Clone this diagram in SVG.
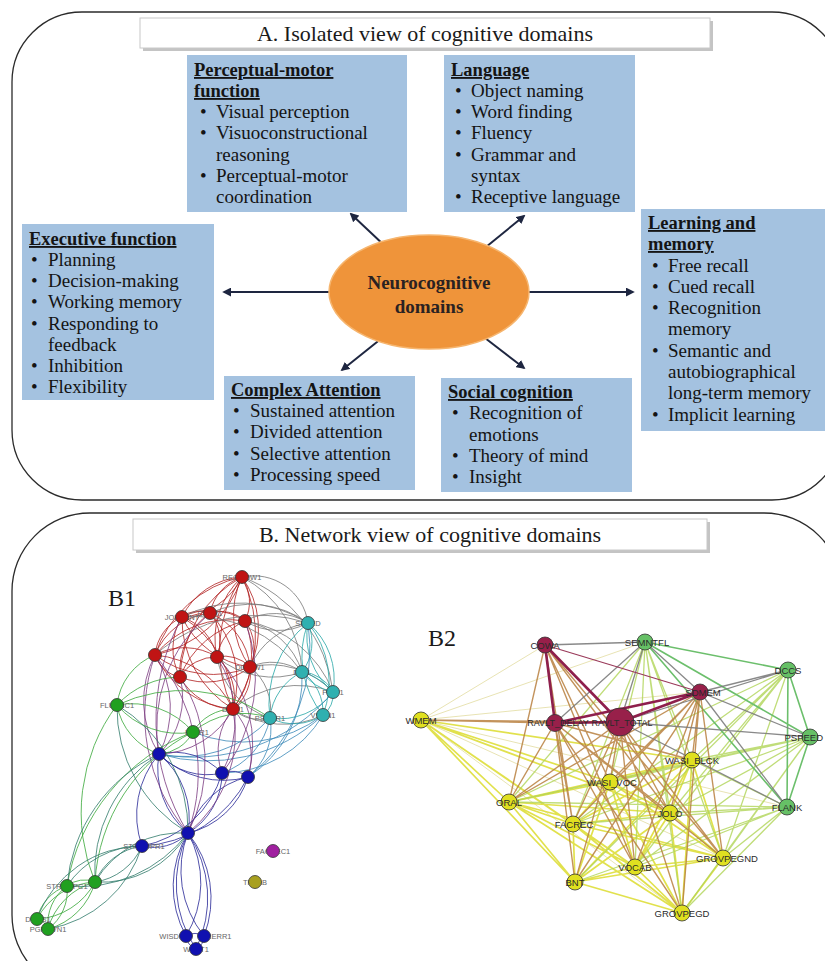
<svg xmlns="http://www.w3.org/2000/svg" width="825" height="961" viewBox="0 0 825 961">
<defs>
<marker id="ah" viewBox="0 0 10 10" refX="8" refY="5" markerWidth="4.5" markerHeight="4.5" orient="auto" markerUnits="strokeWidth"><path d="M0,0 L10,5 L0,10 z" fill="#1e2640"/></marker>
</defs>
<style>
.panel{fill:none;stroke:#2b2b2b;stroke-width:1.3}
.tbox{fill:#fff;stroke:#c8c8c8;stroke-width:1}
.tsh{fill:#8a8a8a;opacity:.5}
.ttl{font-family:"Liberation Serif",serif;font-size:22px;fill:#1a1a1a;text-anchor:middle}
.box{fill:#a4c2e0}
.hd{font-family:"Liberation Serif",serif;font-size:18.5px;font-weight:bold;fill:#141414;text-decoration:underline}
.it{font-family:"Liberation Serif",serif;font-size:19px;fill:#141414}
.arr{stroke:#1e2640;stroke-width:2;fill:none;marker-end:url(#ah)}
.el{fill:#ef943a;stroke:#f6b56e;stroke-width:1.5}
.et{font-family:"Liberation Serif",serif;font-size:19px;font-weight:bold;fill:#2a2222;text-anchor:middle}
.bl{font-family:"Liberation Serif",serif;font-size:24px;fill:#1a1a1a}
.e1{fill:none;stroke-width:1;opacity:.8}
.rr{stroke:#b01e1e}.gr{stroke:#777}.tt{stroke:#26a6a6}.bb{stroke:#262696}.pu{stroke:#7a3a80}.gg{stroke:#38a838}.gb{stroke:#2f7a6a}.tb{stroke:#3a88b8}
.nr{fill:#c01414}.nt{fill:#30b0b0}.ng{fill:#20a020}.nb{fill:#1010b0}.nm{fill:#a020a0}.no{fill:#a8a020}
.n1{stroke:#333;stroke-width:.8}
.lb{font-family:"Liberation Sans",sans-serif;font-size:7.5px;fill:#666;text-anchor:middle}
.lbe{text-anchor:end}.lbs{text-anchor:start}
.e2{fill:none}
.ym{stroke:#8e1f4c;stroke-width:2.6}
.mm{stroke:#9a3a5a;stroke-width:1.2}
.bw{stroke:#b98040;stroke-width:1.4;opacity:.85}
.gy{stroke:#7c7c7c;stroke-width:1.3;opacity:.9}
.gn{stroke:#6cbf6c;stroke-width:1.6}
.yg{stroke:#b0d458;stroke-width:1.3;opacity:.8}
.yy{stroke:#dede3a;stroke-width:1.7;opacity:.9}
.fy{stroke:#e2dca0;stroke-width:1;opacity:.8}
.m2{fill:#98204a}.g2{fill:#66c066}.y2{fill:#e0e020}
.n2{stroke:#333;stroke-width:.8}
.nl{font-family:"Liberation Sans",sans-serif;font-size:9.5px;fill:#2a2a2a;text-anchor:middle}
.nle{text-anchor:end}
.sm{font-size:9px}
</style>
<rect width="825" height="961" fill="#fff"/>

<!-- Panel A -->
<g id="panelA">
<rect class="panel" x="12" y="12" width="830" height="488" rx="70" ry="70"/>
<rect class="tsh" x="143" y="21" width="570" height="30"/>
<rect class="tbox" x="140" y="18" width="570" height="30"/>
<text class="ttl" x="425" y="41">A. Isolated view of cognitive domains</text>
</g>

<g id="connectorsA">
<path class="arr" d="M386,247 L351,214"/>
<path class="arr" d="M486,247 L524,216"/>
<path class="arr" d="M330,292 L224,292"/>
<path class="arr" d="M529,292 L633,292"/>
<path class="arr" d="M382,338 L342,370"/>
<path class="arr" d="M485,338 L524,368"/>
</g>

<g id="perceptual">
<rect class="box" x="187" y="55" width="220" height="157"/>
<text class="hd" x="194" y="76">Perceptual-motor</text>
<text class="hd" x="194" y="97">function</text>
<text class="it" x="200" y="118">•</text><text class="it" x="216" y="118">Visual perception</text>
<text class="it" x="200" y="139">•</text><text class="it" x="216" y="139">Visuoconstructional</text>
<text class="it" x="216" y="161">reasoning</text>
<text class="it" x="200" y="182">•</text><text class="it" x="216" y="182">Perceptual-motor</text>
<text class="it" x="216" y="203">coordination</text>
</g>

<g id="language">
<rect class="box" x="444" y="55" width="191" height="157"/>
<text class="hd" x="451" y="76">Language</text>
<text class="it" x="455" y="97">•</text><text class="it" x="471" y="97">Object naming</text>
<text class="it" x="455" y="118">•</text><text class="it" x="471" y="118">Word finding</text>
<text class="it" x="455" y="139">•</text><text class="it" x="471" y="139">Fluency</text>
<text class="it" x="455" y="161">•</text><text class="it" x="471" y="161">Grammar and</text>
<text class="it" x="471" y="182">syntax</text>
<text class="it" x="455" y="203">•</text><text class="it" x="471" y="203">Receptive language</text>
</g>

<g id="learning">
<rect class="box" x="641" y="209" width="190" height="222"/>
<text class="hd" x="648" y="229">Learning and</text>
<text class="hd" x="648" y="250">memory</text>
<text class="it" x="652" y="272">•</text><text class="it" x="668" y="272">Free recall</text>
<text class="it" x="652" y="293">•</text><text class="it" x="668" y="293">Cued recall</text>
<text class="it" x="652" y="314">•</text><text class="it" x="668" y="314">Recognition</text>
<text class="it" x="668" y="335">memory</text>
<text class="it" x="652" y="357">•</text><text class="it" x="668" y="357">Semantic and</text>
<text class="it" x="668" y="378">autobiographical</text>
<text class="it" x="668" y="399">long-term memory</text>
<text class="it" x="652" y="421">•</text><text class="it" x="668" y="421">Implicit learning</text>
</g>

<g id="executive">
<rect class="box" x="22" y="224" width="192" height="176"/>
<text class="hd" x="29" y="245">Executive function</text>
<text class="it" x="31" y="266">•</text><text class="it" x="48" y="266">Planning</text>
<text class="it" x="31" y="287">•</text><text class="it" x="48" y="287">Decision-making</text>
<text class="it" x="31" y="308">•</text><text class="it" x="48" y="308">Working memory</text>
<text class="it" x="31" y="330">•</text><text class="it" x="48" y="330">Responding to</text>
<text class="it" x="48" y="351">feedback</text>
<text class="it" x="31" y="372">•</text><text class="it" x="48" y="372">Inhibition</text>
<text class="it" x="31" y="393">•</text><text class="it" x="48" y="393">Flexibility</text>
</g>

<g id="attention">
<rect class="box" x="224" y="376" width="191" height="114"/>
<text class="hd" x="231" y="396">Complex Attention</text>
<text class="it" x="233" y="417">•</text><text class="it" x="250" y="417">Sustained attention</text>
<text class="it" x="233" y="438">•</text><text class="it" x="250" y="438">Divided attention</text>
<text class="it" x="233" y="460">•</text><text class="it" x="250" y="460">Selective attention</text>
<text class="it" x="233" y="481">•</text><text class="it" x="250" y="481">Processing speed</text>
</g>

<g id="social">
<rect class="box" x="441" y="378" width="191" height="114"/>
<text class="hd" x="448" y="398">Social cognition</text>
<text class="it" x="452" y="419">•</text><text class="it" x="469" y="419">Recognition of</text>
<text class="it" x="469" y="441">emotions</text>
<text class="it" x="452" y="462">•</text><text class="it" x="469" y="462">Theory of mind</text>
<text class="it" x="452" y="483">•</text><text class="it" x="469" y="483">Insight</text>
</g>

<g id="neuro">
<ellipse class="el" cx="429" cy="292" rx="100" ry="57"/>
<text class="et" x="429" y="289">Neurocognitive</text>
<text class="et" x="429" y="313">domains</text>
</g>

<!-- Panel B -->
<g id="panelB">
<rect class="panel" x="12" y="513" width="830" height="480" rx="78" ry="78"/>
<rect class="tsh" x="136" y="522" width="574" height="31"/>
<rect class="tbox" x="133" y="519" width="574" height="31"/>
<text class="ttl" x="430" y="542">B. Network view of cognitive domains</text>
<text class="bl" x="108" y="606">B1</text>
<text class="bl" x="428" y="646">B2</text>
</g>

<!-- B1 network connectors -->
<g id="b1-connectors">
<path class="e1 rr" d="M242,577A72,72 0 0,0 182,617M242,577A72,72 0 0,1 182,617M242,577A48,48 0 0,0 210,613M242,577A44,44 0 0,1 245,621M242,577A117,117 0 0,0 155,655M242,577A117,117 0 0,1 155,655M242,577A84,84 0 0,0 217,657M242,577A90,90 0 0,0 250,667M242,577A90,90 0 0,1 250,667M242,577A118,118 0 0,0 180,677M242,577A132,132 0 0,0 233,709M242,577A132,132 0 0,1 233,709M182,617A28,28 0 0,1 210,613M182,617A63,63 0 0,1 245,621M182,617A47,47 0 0,0 155,655M182,617A54,54 0 0,1 217,657M182,617A88,88 0 0,0 250,667M182,617A60,60 0 0,0 180,677M182,617A105,105 0 0,0 233,709M182,617A105,105 0 0,1 233,709M210,613A36,36 0 0,1 245,621M210,613A68,68 0 0,0 155,655M210,613A44,44 0 0,1 217,657M210,613A66,66 0 0,1 250,667M210,613A71,71 0 0,0 180,677M210,613A99,99 0 0,1 233,709M245,621A96,96 0 0,0 155,655M245,621A46,46 0 0,0 217,657M245,621A46,46 0 0,1 250,667M245,621A92,92 0 0,0 180,677M245,621A89,89 0 0,1 233,709M155,655A62,62 0 0,1 217,657M155,655A96,96 0 0,0 250,667M155,655A33,33 0 0,0 180,677M155,655A96,96 0 0,0 233,709M155,655A96,96 0 0,1 233,709M217,657A35,35 0 0,1 250,667M217,657A42,42 0 0,0 180,677M217,657A54,54 0 0,1 233,709M250,667A71,71 0 0,1 180,677M250,667A45,45 0 0,1 233,709M180,677A62,62 0 0,0 233,709"/>
<path class="e1 gr" d="M242,577A55,55 0 0,1 308,623M182,617A126,126 0 0,1 308,623M210,613A98,98 0 0,1 308,623M245,621A63,63 0 0,1 308,623M245,621A63,63 0 0,0 308,623M242,577A112,112 0 0,1 302,672M245,621A75,75 0 0,1 302,672M250,667A52,52 0 0,1 302,672M217,657A87,87 0 0,0 302,672M250,667A75,75 0 0,1 308,623M233,709A38,38 0 0,0 270,718M250,667A54,54 0 0,1 270,718M217,657A78,78 0 0,0 270,718M245,621A114,114 0 0,1 333,692M242,577A140,140 0 0,1 333,692M250,667A87,87 0 0,1 333,692M233,709A90,90 0 0,0 323,715M233,709A100,100 0 0,1 333,692M155,655A157,157 0 0,1 308,623M182,617A132,132 0 0,1 302,672"/>
<path class="e1 tt" d="M308,623A49,49 0 0,1 302,672M308,623A73,73 0 0,1 333,692M308,623A73,73 0 0,0 333,692M308,623A93,93 0 0,1 323,715M308,623A93,93 0 0,0 323,715M308,623A102,102 0 0,0 270,718M302,672A37,37 0 0,1 333,692M302,672A49,49 0 0,1 323,715M302,672A57,57 0 0,0 270,718M333,692A25,25 0 0,1 323,715M333,692A66,66 0 0,1 270,718M323,715A53,53 0 0,1 270,718M302,672A53,53 0 0,0 333,692M302,672A66,66 0 0,1 333,692"/>
<path class="e1 tb" d="M333,692A183,183 0 0,1 159,754M323,715A169,169 0 0,1 159,754M270,718A116,116 0 0,1 159,754M270,718A73,73 0 0,1 222,773M270,718A62,62 0 0,1 248,777M302,672A117,117 0 0,1 248,777M323,715A118,118 0 0,1 222,773M308,623A165,165 0 0,1 248,777M323,715A131,131 0 0,1 193,732"/>
<path class="e1 bb" d="M159,754A66,66 0 0,0 222,773M159,754A66,66 0 0,1 222,773M159,754A92,92 0 0,0 248,777M222,773A26,26 0 0,1 248,777M159,754A84,84 0 0,1 188,833M159,754A84,84 0 0,0 188,833M222,773A70,70 0 0,1 188,833M248,777A82,82 0 0,1 188,833M248,777A82,82 0 0,0 188,833M188,833A48,48 0 0,1 142,846M159,754A94,94 0 0,0 142,846M142,846A125,125 0 0,0 248,777M142,846A103,103 0 0,0 222,773M188,833A103,103 0 0,0 186,936M188,833A103,103 0 0,1 186,936M188,833A104,104 0 0,0 204,936M188,833A104,104 0 0,1 204,936M188,833A117,117 0 0,0 196,949M188,833A117,117 0 0,1 196,949M186,936A18,18 0 0,1 204,936M204,936A15,15 0 0,1 196,949M186,936A16,16 0 0,0 196,949"/>
<path class="e1 pu" d="M155,655A99,99 0 0,0 159,754M155,655A99,99 0 0,1 159,754M180,677A80,80 0 0,1 159,754M233,709A66,66 0 0,0 222,773M233,709A70,70 0 0,1 248,777M217,657A116,116 0 0,1 222,773M155,655A182,182 0 0,0 188,833M155,655A182,182 0 0,1 188,833M182,617A216,216 0 0,0 188,833M180,677A156,156 0 0,1 188,833M233,709A86,86 0 0,1 159,754M217,657A123,123 0 0,1 248,777M233,709A128,128 0 0,1 188,833M210,613A150,150 0 0,0 159,754M245,621A155,155 0 0,1 222,773"/>
<path class="e1 gg" d="M117,705A81,81 0 0,0 193,732M117,705A81,81 0 0,1 193,732M117,705A64,64 0 0,0 159,754M117,705A61,61 0 0,1 155,655M117,705A88,88 0 0,1 180,677M193,732A41,41 0 0,1 159,754M193,732A78,78 0 0,1 270,718M193,732A47,47 0 0,1 233,709M117,705A154,154 0 0,1 270,718M67,886A28,28 0 0,1 95,882M67,886A45,45 0 0,0 37,919M67,886A47,47 0 0,1 48,929M95,882A70,70 0 0,1 37,919M95,882A67,67 0 0,0 48,929M95,882A67,67 0 0,1 48,929M37,919A15,15 0 0,1 48,929M67,886A47,47 0 0,0 48,929M95,882A70,70 0 0,0 37,919M193,732A180,180 0 0,0 95,882M193,732A200,200 0 0,0 67,886M117,705A180,180 0 0,0 95,882"/>
<path class="e1 gb" d="M95,882A61,61 0 0,1 142,846M95,882A61,61 0 0,0 142,846M67,886A90,90 0 0,1 142,846M67,886A160,160 0 0,1 159,754M95,882A141,141 0 0,1 159,754M95,882A100,100 0 0,0 188,833M95,882A100,100 0 0,1 188,833M67,886A136,136 0 0,0 188,833M37,919A112,112 0 0,1 142,846M48,929A120,120 0 0,0 142,846M117,705A146,146 0 0,0 188,833M117,705A146,146 0 0,1 188,833"/>
</g>

<!-- B1 nodes -->
<g id="b1-labels">
<text class="lb" x="242" y="580">REGROW1</text>
<text class="lb" x="182" y="620">JOLOBNT</text>
<text class="lb" x="210" y="616">CBPR1</text>
<text class="lb" x="250" y="670">DIGBW1</text>
<text class="lb" x="233" y="712">DIGT1</text>
<text class="lb" x="308" y="626">SPEED</text>
<text class="lb" x="302" y="675">DIG1</text>
<text class="lb" x="333" y="695">PLLT1</text>
<text class="lb" x="323" y="718">VSUN1</text>
<text class="lb" x="270" y="721">PSCDR1</text>
<text class="lb" x="117" y="708">FLUENC1</text>
<text class="lb" x="197" y="735">LEAR1</text>
<text class="lb" x="159" y="757">FAS</text>
<text class="lb" x="144" y="849">STROOPR1</text>
<text class="lb" x="67" y="889">STROOPC1</text>
<text class="lb" x="95" y="885">PS</text>
<text class="lb" x="38" y="922">DCCS1</text>
<text class="lb" x="48" y="932">PGROVN1</text>
<text class="lb lbe" x="191" y="939">WISDIG1</text>
<text class="lb lbs" x="199" y="939">WRERR1</text>
<text class="lb" x="196" y="952">WRAT1</text>
<text class="lb" x="273" y="854">FACREC1</text>
<text class="lb" x="255" y="885">TRLAB</text>
</g>
<g id="b1-red" class="n1">
<circle class="nr" cx="242" cy="577" r="6.5"/><circle class="nr" cx="182" cy="617" r="6.5"/><circle class="nr" cx="210" cy="613" r="6.5"/><circle class="nr" cx="245" cy="621" r="6.5"/><circle class="nr" cx="155" cy="655" r="6.5"/><circle class="nr" cx="217" cy="657" r="6.5"/><circle class="nr" cx="250" cy="667" r="6.5"/><circle class="nr" cx="180" cy="677" r="6.5"/><circle class="nr" cx="233" cy="709" r="6.5"/>
</g>
<g id="b1-teal" class="n1">
<circle class="nt" cx="308" cy="623" r="6.5"/><circle class="nt" cx="302" cy="672" r="6.5"/><circle class="nt" cx="333" cy="692" r="6.5"/><circle class="nt" cx="323" cy="715" r="6.5"/><circle class="nt" cx="270" cy="718" r="6.5"/>
</g>
<g id="b1-green" class="n1">
<circle class="ng" cx="117" cy="705" r="6.5"/><circle class="ng" cx="193" cy="732" r="6.5"/><circle class="ng" cx="67" cy="886" r="6.5"/><circle class="ng" cx="95" cy="882" r="6.5"/><circle class="ng" cx="37" cy="919" r="6.5"/><circle class="ng" cx="48" cy="929" r="6.5"/>
</g>
<g id="b1-blue" class="n1">
<circle class="nb" cx="159" cy="754" r="6.5"/><circle class="nb" cx="222" cy="773" r="6.5"/><circle class="nb" cx="248" cy="777" r="6.5"/><circle class="nb" cx="188" cy="833" r="6.5"/><circle class="nb" cx="142" cy="846" r="6.5"/><circle class="nb" cx="186" cy="936" r="6.5"/><circle class="nb" cx="204" cy="936" r="6.5"/><circle class="nb" cx="196" cy="949" r="6.5"/>
</g>
<g id="b1-other" class="n1">
<circle class="nm" cx="273" cy="851" r="6.5"/><circle class="no" cx="255" cy="882" r="6.5"/>
</g>

<!-- B2 network connectors -->
<g id="b2-connectors" class="e2">
<path class="fy" d="M421,720L545,645M421,720L723,858M421,720L682,913M421,720L645,642M421,720L700,692M421,720L787,807"/>
<path class="yy" d="M509,802L573,824M509,802L575,882M509,802L635,867M509,802L670,813M509,802L723,858M509,802L610,782M509,802L682,913M573,824L670,813M573,824L575,882M573,824L635,867M573,824L682,913M573,824L723,858M575,882L635,867M575,882L723,858M575,882L670,813M575,882L682,913M635,867L723,858M635,867L670,813M635,867L682,913M670,813L723,858M670,813L682,913M670,813L692,760M692,760L635,867M692,760L682,913M692,760L723,858M610,782L635,867M610,782L723,858M610,782L682,913M610,782L670,813M610,782L575,882M692,760L575,882M723,858L682,913M610,782L692,760M610,782L573,824M421,720L509,802M421,720L573,824M421,720L692,760M421,720L670,813M421,720L575,882M421,720L635,867M421,720L610,782M509,802L692,760M573,824L692,760"/>
<path class="yg" d="M645,642L692,760M645,642L670,813M645,642L635,867M645,642L723,858M645,642L573,824M645,642L509,802M645,642L682,913M645,642L610,782M788,670L692,760M788,670L670,813M788,670L723,858M788,670L635,867M788,670L573,824M788,670L509,802M788,670L575,882M810,737L692,760M810,737L670,813M810,737L723,858M810,737L682,913M810,737L635,867M810,737L573,824M810,737L509,802M810,737L610,782M787,807L692,760M787,807L670,813M787,807L573,824M787,807L723,858M787,807L635,867M787,807L682,913M787,807L509,802M787,807L575,882"/>
<path class="gn" d="M645,642L788,670M788,670L810,737M788,670L787,807M810,737L787,807M645,642L787,807M645,642L810,737"/>
<path class="bw" d="M545,645L509,802M545,645L573,824M545,645L670,813M545,645L635,867M545,645L723,858M545,645L610,782M555,723L509,802M555,723L573,824M555,723L575,882M555,723L635,867M555,723L670,813M555,723L723,858M555,723L692,760M555,723L682,913M620,722L509,802M620,722L573,824M620,722L575,882M620,722L635,867M620,722L670,813M620,722L682,913M620,722L723,858M620,722L610,782M700,692L509,802M700,692L610,782M700,692L670,813M700,692L682,913M700,692L723,858M700,692L575,882M700,692L635,867M700,692L692,760M700,692L573,824M555,723L421,720M620,722L421,720"/>
<path class="gy" d="M545,645L645,642M645,642L700,692M700,692L788,670M700,692L810,737M620,722L810,737M700,692L787,807M620,722L787,807M620,722L645,642M555,723L645,642M620,722L788,670"/>
<path class="mm" d="M545,645L700,692"/>
<path class="ym" d="M545,645L555,723M620,722L700,692M555,723L700,692M545,645L620,722M555,723L620,722"/>
</g>

<!-- B2 nodes -->
<g id="b2-nodes" class="n2">
<circle id="n-cowa" class="m2" cx="545" cy="645" r="8"/>
<circle id="n-semntfl" class="g2" cx="645" cy="642" r="8"/>
<circle id="n-dccs" class="g2" cx="788" cy="670" r="8"/>
<circle id="n-sdmem" class="m2" cx="700" cy="692" r="8"/>
<circle id="n-wmem" class="y2" cx="421" cy="720" r="8"/>
<circle id="n-ravltd" class="m2" cx="555" cy="723" r="8.5"/>
<circle id="n-ravltt" class="m2" cx="620" cy="722" r="14"/>
<circle id="n-pspeed" class="g2" cx="810" cy="737" r="8"/>
<circle id="n-wasib" class="y2" cx="692" cy="760" r="8"/>
<circle id="n-wasiv" class="y2" cx="610" cy="782" r="8"/>
<circle id="n-oral" class="y2" cx="509" cy="802" r="8"/>
<circle id="n-flank" class="g2" cx="787" cy="807" r="8"/>
<circle id="n-jolo" class="y2" cx="670" cy="813" r="8"/>
<circle id="n-facrec" class="y2" cx="573" cy="824" r="8"/>
<circle id="n-grovnd" class="y2" cx="723" cy="858" r="8"/>
<circle id="n-vocab" class="y2" cx="635" cy="867" r="8"/>
<circle id="n-bnt" class="y2" cx="575" cy="882" r="8"/>
<circle id="n-grovd" class="y2" cx="682" cy="913" r="8"/>
</g>
<g id="b2-labels">
<text class="nl" x="545" y="649">COWA</text>
<text class="nl" x="647" y="646">SEMNTFL</text>
<text class="nl" x="788" y="674">DCCS</text>
<text class="nl" x="703" y="696">SDMEM</text>
<text class="nl" x="421" y="724">WMEM</text>
<text class="nl sm" x="558" y="726">RAVLT_DELAY</text>
<text class="nl sm" x="622" y="726">RAVLT_TOTAL</text>
<text class="nl nle" x="823" y="741">PSPEED</text>
<text class="nl" x="692" y="764">WASI_BLCK</text>
<text class="nl" x="612" y="786">WASI_VOC</text>
<text class="nl" x="509" y="806">ORAL</text>
<text class="nl" x="787" y="811">FLANK</text>
<text class="nl" x="670" y="817">JOLO</text>
<text class="nl" x="574" y="828">FACREC</text>
<text class="nl" x="727" y="862">GROVPEGND</text>
<text class="nl" x="635" y="871">VOCAB</text>
<text class="nl" x="575" y="886">BNT</text>
<text class="nl" x="682" y="917">GROVPEGD</text>
</g>
</svg>
